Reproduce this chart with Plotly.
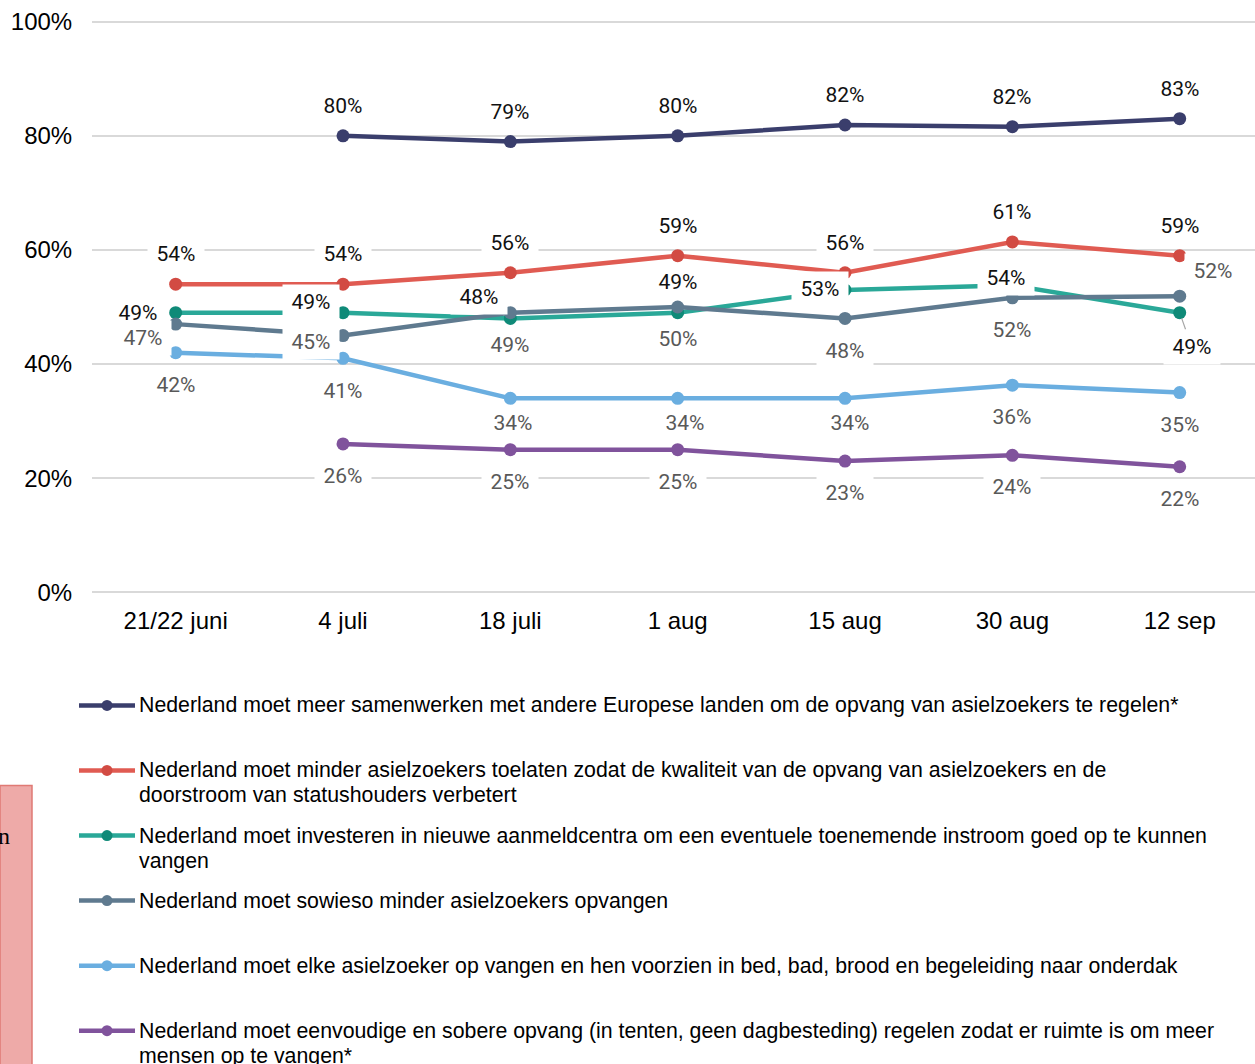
import plotly.graph_objects as go

# ---------------- data ----------------
categories = ["21/22 juni", "4 juli", "18 juli", "1 aug", "15 aug", "30 aug", "12 sep"]

samenwerken = [None, 80, 79, 80, 81.9, 81.6, 83]
minder_toelaten = [54, 54, 56, 59, 56, 61.4, 59]
investeren = [49, 49, 48, 49, 53, 53.8, 49]
sowieso_minder = [47, 45, 49, 50, 48, 51.6, 51.9]
elke_opvangen = [42, 41, 34, 34, 34, 36.3, 35]
sobere_opvang = [None, 26, 25, 25, 23, 24, 22]

series_names = [
    "Nederland moet meer samenwerken met andere Europese landen om de opvang van asielzoekers te regelen*",
    "Nederland moet minder asielzoekers toelaten zodat de kwaliteit van de opvang van asielzoekers en de<br>doorstroom van statushouders verbetert",
    "Nederland moet investeren in nieuwe aanmeldcentra om een eventuele toenemende instroom goed op te kunnen<br>vangen",
    "Nederland moet sowieso minder asielzoekers opvangen",
    "Nederland moet elke asielzoeker op vangen en hen voorzien in bed, bad, brood en begeleiding naar onderdak",
    "Nederland moet eenvoudige en sobere opvang (in tenten, geen dagbesteding) regelen zodat er ruimte is om meer<br>mensen op te vangen*",
]
y_tick_values = [0, 20, 40, 60, 80, 100]
y_tick_labels = ["0%", "20%", "40%", "60%", "80%", "100%"]

series_values = [samenwerken, minder_toelaten, investeren, sowieso_minder, elke_opvangen, sobere_opvang]

# ---------------- styles ----------------
line_colors = ["#3a3e6c", "#e05b52", "#2aa898", "#5f7a8f", "#6aaee0", "#80539c"]
marker_colors = ["#3a3e6c", "#d24b43", "#0f8a78", "#5f7a8f", "#6aaee0", "#80539c"]
label_colors = ["#111111", "#111111", "#111111", "#595959", "#595959", "#595959"]

# label offsets in pixels (xshift, yshift) per series per category
label_offsets = [
    [None, (0, 30), (0, 30), (0, 30), (0, 30), (0, 30), (0, 30)],
    [(0, 30)] * 7,
    [(-38, 0), (-32, 11), (-31, 21), (0, 31), (-25, 1), (-6, 7), "arrow"],
    [(-33, -14), (-32, -6), (0, -32), (0, -32), (0, -33), (0, -32), (33, 25)],
    [(0, -32), (0, -33), (3, -25), (7, -25), (5, -25), (0, -32), (0, -32)],
    [None, (0, -32), (0, -32), (0, -32), (0, -32), (0, -32), (0, -32)],
]

W, H = 1255, 1064
ML = 92
PLOT_W = W - ML
Y_PAD = 0.3                       # small range padding so edge gridlines are drawn
PX_PER_UNIT = 5.7
MT = 22 - Y_PAD * PX_PER_UNIT
PLOT_BOTTOM = 592 + Y_PAD * PX_PER_UNIT
PLOT_H = PLOT_BOTTOM - MT


def px_x(px):
    return (px - ML) / PLOT_W


def px_y(py):
    return (PLOT_BOTTOM - py) / PLOT_H


fig = go.Figure()

for vals, name, lc, mc in zip(series_values, series_names, line_colors, marker_colors):
    fig.add_trace(go.Scatter(
        x=categories, y=vals, mode="lines+markers", name=name.replace("<br>", " "),
        line=dict(color=lc, width=4.5),
        marker=dict(color=mc, size=13, line=dict(width=0)),
        connectgaps=False, showlegend=False, cliponaxis=False,
    ))

annotations = []
label_font = dict(family="Roboto", size=21)
for s, vals in enumerate(series_values):
    for i, v in enumerate(vals):
        if v is None:
            continue
        off = label_offsets[s][i]
        txt = f"{round(v)}%"
        if off == "arrow":
            annotations.append(dict(
                x=categories[i], y=v, xref="x", yref="y", text=txt,
                showarrow=True, ax=12, ay=34, arrowhead=0, arrowwidth=1.2,
                arrowcolor="#a6a6a6", standoff=6,
                font=dict(color=label_colors[s], **label_font),
                bgcolor="white", width=50, height=28, borderpad=3,
            ))
            continue
        annotations.append(dict(
            x=categories[i], y=v, xref="x", yref="y", text=txt,
            showarrow=False, xshift=off[0], yshift=off[1],
            font=dict(color=label_colors[s], **label_font),
            bgcolor="white", width=50, height=28, borderpad=3,
        ))

# ---------------- manual legend ----------------
shapes = []
legend_row_y = [705, 770, 835, 900, 965, 1030]
line_gap = 25
for k, name in enumerate(series_names):
    ry = legend_row_y[k]
    shapes.append(dict(type="line", xref="paper", yref="paper",
                       x0=px_x(79), x1=px_x(135), y0=px_y(ry), y1=px_y(ry),
                       line=dict(color=line_colors[k], width=4.5)))
    shapes.append(dict(type="circle", xref="paper", yref="paper",
                       xsizemode="pixel", ysizemode="pixel",
                       xanchor=px_x(107), yanchor=px_y(ry),
                       x0=-5.5, x1=5.5, y0=-5.5, y1=5.5,
                       fillcolor=marker_colors[k], line=dict(width=0)))
    for j, part in enumerate(name.split("<br>")):
        annotations.append(dict(
            x=px_x(136.5), y=px_y(ry + j * line_gap), xref="paper", yref="paper",
            xanchor="left", yanchor="middle", showarrow=False, text=part,
            font=dict(family="Liberation Sans, Arial", size=21.3, color="#000000"),
        ))

# cropped pink box on the left
shapes.append(dict(type="rect", xref="paper", yref="paper",
                   x0=px_x(0), x1=px_x(32), y0=px_y(785), y1=px_y(1075),
                   fillcolor="#eeaaa8", line=dict(color="#e07a74", width=1.5)))
annotations.append(dict(x=px_x(12), y=px_y(835), xref="paper", yref="paper",
                        xanchor="right", yanchor="middle", showarrow=False, text="n",
                        font=dict(family="Liberation Serif", size=24, color="#000000")))

fig.update_layout(
    width=W, height=H,
    margin=dict(l=ML, r=0, t=MT, b=H - PLOT_BOTTOM, pad=0),
    paper_bgcolor="white", plot_bgcolor="white",
    showlegend=False,
    annotations=annotations, shapes=shapes,
    xaxis=dict(
        type="category", range=[-0.5, 6.45], showgrid=False, zeroline=False,
        showline=False, ticks="outside", ticklen=5, tickcolor="rgba(0,0,0,0)",
        tickfont=dict(family="Liberation Sans, Arial", size=24, color="#000000"),
    ),
    yaxis=dict(
        range=[-Y_PAD, 100 + Y_PAD], tickvals=y_tick_values, ticktext=y_tick_labels,
        showgrid=True, gridcolor="#d9d9d9", gridwidth=1.5, zeroline=False,
        showline=False, ticks="outside", ticklen=14, tickcolor="rgba(0,0,0,0)",
        tickfont=dict(family="Liberation Sans, Arial", size=24, color="#000000"),
    ),
)

fig.write_html(
    "out.html",
    config={"displayModeBar": False},
    post_script="document.body.style.margin='0';document.body.style.padding='0';",
)
